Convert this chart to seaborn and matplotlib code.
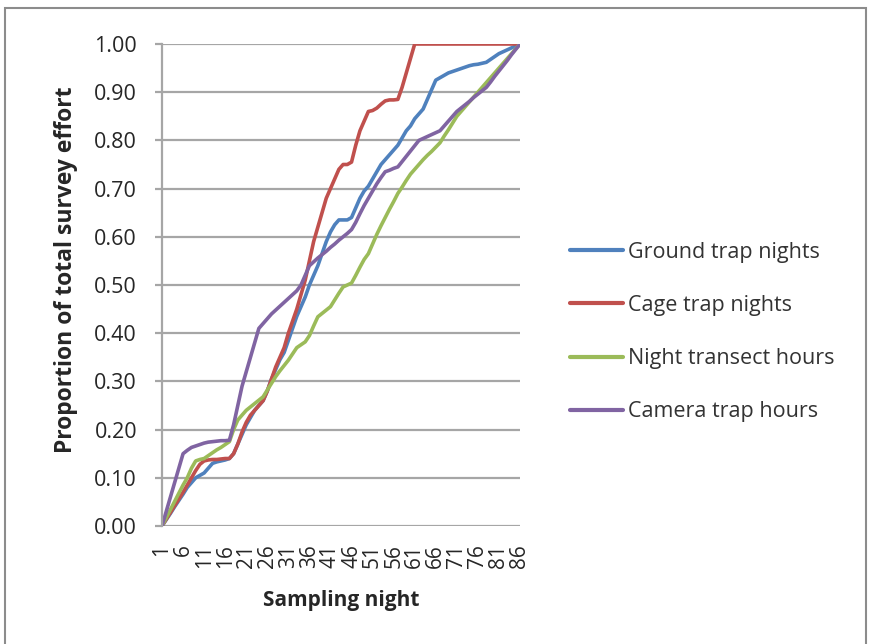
import matplotlib
matplotlib.use("Agg")
import matplotlib.pyplot as plt
from matplotlib.patches import Rectangle
import seaborn as sns
import pandas as pd

# ---- data ----
nights = list(range(1, 87))
tick_nights = [1, 6, 11, 16, 21, 26, 31, 36, 41, 46, 51, 56, 61, 66, 71, 76, 81, 86]

ground_trap_nights = [
    0.00, 0.013, 0.026, 0.04, 0.053, 0.066, 0.08, 0.09, 0.10, 0.105,
    0.11, 0.12, 0.13, 0.133, 0.135, 0.137, 0.14, 0.15, 0.17, 0.19,
    0.21, 0.225, 0.24, 0.25, 0.26, 0.28, 0.305, 0.325, 0.345, 0.36,
    0.385, 0.41, 0.435, 0.455, 0.475, 0.50, 0.52, 0.54, 0.565, 0.59,
    0.61, 0.625, 0.635, 0.635, 0.635, 0.64, 0.66, 0.68, 0.695, 0.705,
    0.72, 0.735, 0.75, 0.76, 0.77, 0.78, 0.79, 0.805, 0.82, 0.83,
    0.845, 0.855, 0.865, 0.885, 0.905, 0.925, 0.93, 0.935, 0.94, 0.943,
    0.946, 0.949, 0.952, 0.955, 0.957, 0.958, 0.96, 0.962, 0.968, 0.974,
    0.98, 0.984, 0.988, 0.992, 0.996, 1.00,
]
cage_trap_nights = [
    0.00, 0.014, 0.028, 0.042, 0.056, 0.07, 0.085, 0.10, 0.115, 0.128,
    0.135, 0.137, 0.138, 0.138, 0.139, 0.14, 0.14, 0.15, 0.17, 0.195,
    0.215, 0.23, 0.24, 0.25, 0.26, 0.28, 0.305, 0.33, 0.35, 0.37,
    0.40, 0.425, 0.45, 0.48, 0.51, 0.55, 0.59, 0.62, 0.65, 0.68,
    0.70, 0.72, 0.74, 0.75, 0.75, 0.755, 0.79, 0.82, 0.84, 0.86,
    0.862, 0.867, 0.875, 0.882, 0.884, 0.884, 0.885, 0.91, 0.94, 0.97,
    1.00, 1.00, 1.00, 1.00, 1.00, 1.00, 1.00, 1.00, 1.00, 1.00,
    1.00, 1.00, 1.00, 1.00, 1.00, 1.00, 1.00, 1.00, 1.00, 1.00,
    1.00, 1.00, 1.00, 1.00, 1.00, 1.00,
]
night_transect_hours = [
    0.00, 0.017, 0.034, 0.051, 0.068, 0.085, 0.10, 0.12, 0.135, 0.138,
    0.14, 0.146, 0.152, 0.158, 0.163, 0.169, 0.175, 0.20, 0.22, 0.23,
    0.24, 0.247, 0.254, 0.261, 0.268, 0.282, 0.296, 0.31, 0.322, 0.333,
    0.344, 0.357, 0.37, 0.376, 0.382, 0.395, 0.415, 0.434, 0.441, 0.448,
    0.455, 0.469, 0.483, 0.496, 0.50, 0.504, 0.52, 0.537, 0.553, 0.565,
    0.585, 0.605, 0.623, 0.64, 0.657, 0.673, 0.69, 0.703, 0.717, 0.73,
    0.74, 0.75, 0.76, 0.769, 0.777, 0.786, 0.795, 0.809, 0.822, 0.836,
    0.85, 0.86, 0.87, 0.88, 0.89, 0.90, 0.91, 0.92, 0.93, 0.94,
    0.95, 0.96, 0.97, 0.98, 0.99, 1.00,
]
camera_trap_hours = [
    0.00, 0.03, 0.06, 0.09, 0.12, 0.15, 0.157, 0.163, 0.166, 0.169,
    0.172, 0.174, 0.175, 0.176, 0.177, 0.177, 0.178, 0.21, 0.25, 0.29,
    0.32, 0.35, 0.38, 0.41, 0.42, 0.43, 0.44, 0.448, 0.456, 0.464,
    0.472, 0.48, 0.488, 0.50, 0.52, 0.54, 0.548, 0.556, 0.563, 0.57,
    0.578, 0.585, 0.593, 0.60, 0.607, 0.615, 0.63, 0.648, 0.665, 0.68,
    0.695, 0.71, 0.723, 0.735, 0.738, 0.742, 0.745, 0.756, 0.767, 0.778,
    0.789, 0.80, 0.804, 0.808, 0.812, 0.816, 0.82, 0.83, 0.84, 0.85,
    0.86, 0.867, 0.874, 0.881, 0.889, 0.896, 0.903, 0.91, 0.921, 0.933,
    0.944, 0.955, 0.966, 0.978, 0.989, 1.00,
]

series_names = ["Ground trap nights", "Cage trap nights",
                "Night transect hours", "Camera trap hours"]
series_colors = ["#4F81BD", "#C0504D", "#9BBB59", "#8064A2"]

frames = []
for name, vals in zip(series_names,
                      [ground_trap_nights, cage_trap_nights,
                       night_transect_hours, camera_trap_hours]):
    frames.append(pd.DataFrame({"night": nights, "value": vals, "series": name}))
df = pd.concat(frames, ignore_index=True)

# ---- style ----
sns.set_theme(style="white")
plt.rcParams["font.family"] = ["Open Sans", "DejaVu Sans"]

fig = plt.figure(figsize=(8.69, 6.44), dpi=100)
fig.patch.set_facecolor("white")
ax = fig.add_axes([162 / 869, 1 - 526 / 644, (520 - 162) / 869, (526 - 44) / 644])

sns.lineplot(data=df, x="night", y="value", hue="series",
             palette=dict(zip(series_names, series_colors)),
             hue_order=series_names, linewidth=2.6, ax=ax, legend=True)

ax.set_xlim(1, 86)
ax.set_ylim(0, 1.0)
ax.set_yticks([i / 10 for i in range(11)])
ax.set_yticklabels([f"{i / 10:.2f}" for i in range(11)], fontsize=15.5, color="#262626")
ax.set_xticks(tick_nights)
ax.set_xticklabels([str(t) for t in tick_nights], rotation=90, fontsize=15,
                   color="#262626")

ax.grid(axis="y", color="#A6A6A6", linewidth=1.6)
ax.grid(axis="x", visible=False)
ax.set_axisbelow(True)
for side in ["top", "right", "bottom"]:
    ax.spines[side].set_visible(False)
ax.spines["left"].set_color("#A6A6A6")
ax.spines["left"].set_linewidth(1.6)
ax.tick_params(axis="y", length=5, width=1.6, color="#A6A6A6", pad=13, left=True)
ax.tick_params(axis="x", length=0, pad=13)

ax.set_xlabel("Sampling night", fontsize=15, fontweight="bold", color="#262626",
              labelpad=16)
ax.set_ylabel("Proportion of total survey effort", fontsize=16.5, fontweight="bold",
              color="#262626")
ax.yaxis.set_label_coords((78 - 162) / 358, (526 - 270) / 482)

handles, labels = ax.get_legend_handles_labels()
ax.get_legend().remove()
leg = fig.legend(handles, labels, loc="center left",
                 bbox_to_anchor=(570 / 869, 1 - 332 / 644),
                 frameon=False, fontsize=15.5, handlelength=2.45,
                 handletextpad=0.25, labelspacing=1.5, borderpad=0,
                 borderaxespad=0)
for t in leg.get_texts():
    t.set_color("#333333")
for h in leg.legend_handles:
    h.set_linewidth(3)

# outer chart border
fig.patches.append(Rectangle((5 / 869, -0.05), (866 - 5) / 869, 1.05 - 8 / 644,
                             transform=fig.transFigure, fill=False,
                             edgecolor="#8C8C8C", linewidth=1.5))

fig.savefig("out.png", dpi=100)
